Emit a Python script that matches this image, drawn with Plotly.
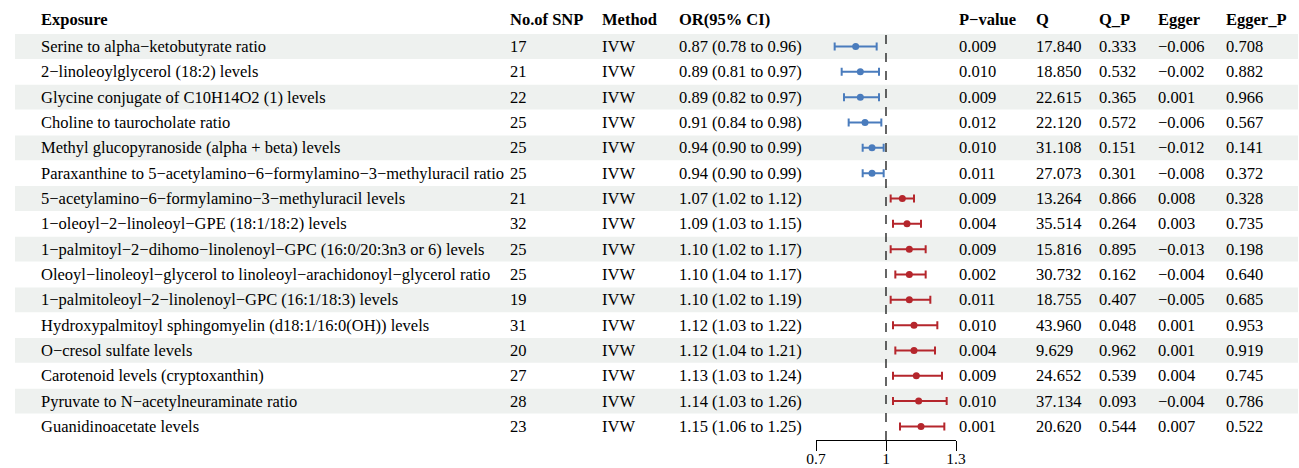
import plotly.graph_objects as go

exposure = [
    "Serine to alpha\u2212ketobutyrate ratio",
    "2\u2212linoleoylglycerol (18:2) levels",
    "Glycine conjugate of C10H14O2 (1) levels",
    "Choline to taurocholate ratio",
    "Methyl glucopyranoside (alpha + beta) levels",
    "Paraxanthine to 5\u2212acetylamino\u22126\u2212formylamino\u22123\u2212methyluracil ratio",
    "5\u2212acetylamino\u22126\u2212formylamino\u22123\u2212methyluracil levels",
    "1\u2212oleoyl\u22122\u2212linoleoyl\u2212GPE (18:1/18:2) levels",
    "1\u2212palmitoyl\u22122\u2212dihomo\u2212linolenoyl\u2212GPC (16:0/20:3n3 or 6) levels",
    "Oleoyl\u2212linoleoyl\u2212glycerol to linoleoyl\u2212arachidonoyl\u2212glycerol ratio",
    "1\u2212palmitoleoyl\u22122\u2212linolenoyl\u2212GPC (16:1/18:3) levels",
    "Hydroxypalmitoyl sphingomyelin (d18:1/16:0(OH)) levels",
    "O\u2212cresol sulfate levels",
    "Carotenoid levels (cryptoxanthin)",
    "Pyruvate to N\u2212acetylneuraminate ratio",
    "Guanidinoacetate levels",
]
n_snp = [17, 21, 22, 25, 25, 25, 21, 32, 25, 25, 19, 31, 20, 27, 28, 23]
method = ["IVW"] * 16
or_val = [0.87, 0.89, 0.89, 0.91, 0.94, 0.94, 1.07, 1.09, 1.10, 1.10, 1.10, 1.12, 1.12, 1.13, 1.14, 1.15]
ci_lo = [0.78, 0.81, 0.82, 0.84, 0.90, 0.90, 1.02, 1.03, 1.02, 1.04, 1.02, 1.03, 1.04, 1.03, 1.03, 1.06]
ci_hi = [0.96, 0.97, 0.97, 0.98, 0.99, 0.99, 1.12, 1.15, 1.17, 1.17, 1.19, 1.22, 1.21, 1.24, 1.26, 1.25]
p_value = ["0.009", "0.010", "0.009", "0.012", "0.010", "0.011", "0.009", "0.004", "0.009", "0.002",
           "0.011", "0.010", "0.004", "0.009", "0.010", "0.001"]
q_stat = ["17.840", "18.850", "22.615", "22.120", "31.108", "27.073", "13.264", "35.514", "15.816", "30.732",
          "18.755", "43.960", "9.629", "24.652", "37.134", "20.620"]
q_p = ["0.333", "0.532", "0.365", "0.572", "0.151", "0.301", "0.866", "0.264", "0.895", "0.162",
       "0.407", "0.048", "0.962", "0.539", "0.093", "0.544"]
egger = ["\u22120.006", "\u22120.002", "0.001", "\u22120.006", "\u22120.012", "\u22120.008", "0.008", "0.003",
         "\u22120.013", "\u22120.004", "\u22120.005", "0.001", "0.001", "0.004", "\u22120.004", "0.007"]
egger_p = ["0.708", "0.882", "0.966", "0.567", "0.141", "0.372", "0.328", "0.735", "0.198", "0.640",
           "0.685", "0.953", "0.919", "0.745", "0.786", "0.522"]
headers = ["Exposure", "No.of SNP", "Method", "OR(95% CI)", "P\u2212value", "Q", "Q_P", "Egger", "Egger_P"]
tick_vals = [0.7, 1, 1.3]
tick_text = ["0.7", "1", "1.3"]

W, H = 1299, 468
FONT = "Liberation Serif"
FS = 16.5
BLUE = "#4a7cbd"
RED = "#b5262c"
SHADE = "#eef1ef"

rows = list(range(1, len(exposure) + 1))
or_text = [f"{o:.2f} ({l:.2f} to {h:.2f})" for o, l, h in zip(or_val, ci_lo, ci_hi)]

# pixel -> row mapping (row centers at 46.5 + (r-1)*25.33)
step = 25.33
y0px = 46.5 - step
y_top = -y0px / step
y_bot = (H - y0px) / step

def prow(px):
    return (px - y0px) / step

col_x = [39, 508, 600, 677, 957, 1034, 1097, 1156, 1224]

fig = go.Figure()

shapes = []
for r in rows:
    if r % 2 == 1:
        shapes.append(dict(type="rect", xref="paper", yref="y", x0=15 / W, x1=1298 / W,
                           y0=r - 0.49, y1=r + 0.49, fillcolor=SHADE, line=dict(width=0), layer="below"))
shapes.append(dict(type="line", xref="x", yref="y", x0=1, x1=1, y0=prow(35), y1=prow(440),
                   line=dict(color="black", width=1.2, dash="dash")))

for grp, col in ((True, BLUE), (False, RED)):
    idx = [i for i, o in enumerate(or_val) if (o < 1) == grp]
    fig.add_trace(go.Scatter(
        x=[or_val[i] for i in idx], y=[rows[i] for i in idx], mode="markers",
        marker=dict(color=col, size=7),
        error_x=dict(type="data", symmetric=False,
                     array=[ci_hi[i] - or_val[i] for i in idx],
                     arrayminus=[or_val[i] - ci_lo[i] for i in idx],
                     color=col, thickness=2, width=4),
        showlegend=False, hoverinfo="skip", cliponaxis=False))

# invisible trace to carry the labelled copy of the x axis
fig.add_trace(go.Scatter(x=[or_val[0]], y=[rows[0]], xaxis="x2", mode="markers",
                         marker=dict(opacity=0), showlegend=False, hoverinfo="skip"))

ann = []
for c, h in enumerate(headers):
    ann.append(dict(x=col_x[c] / W, y=prow(19), xref="paper", yref="y", text=f"<b>{h}</b>",
                    showarrow=False, xanchor="left", yanchor="middle", font=dict(family=FONT, size=FS, color="black")))
cols = [exposure, [str(v) for v in n_snp], method, or_text, p_value, q_stat, q_p, egger, egger_p]
for c, vals in enumerate(cols):
    for r, v in zip(rows, vals):
        ann.append(dict(x=col_x[c] / W, y=r, xref="paper", yref="y", text=v, showarrow=False,
                        xanchor="left", yanchor="middle", font=dict(family=FONT, size=FS, color="black")))

axis_pos = 1 - 440 / H
fig.update_layout(
    width=W, height=H, margin=dict(l=0, r=0, t=0, b=0, pad=0), autosize=False,
    paper_bgcolor="white", plot_bgcolor="rgba(0,0,0,0)",
    shapes=shapes, annotations=ann,
    xaxis=dict(domain=[816 / W, 956 / W], range=[0.7, 1.3], anchor="free", position=axis_pos,
               automargin=False,
               showline=True, linecolor="black", linewidth=1.3, ticks="outside", ticklen=10,
               tickwidth=1.3, tickcolor="black", tickvals=tick_vals, showticklabels=False,
               showgrid=False, zeroline=False),
    xaxis2=dict(domain=[816 / W, 956 / W], range=[0.7, 1.3], anchor="free", position=axis_pos,
                overlaying="x", side="bottom", automargin=False,
                showline=False, ticks="outside", ticklen=4, tickcolor="rgba(0,0,0,0)",
                tickvals=tick_vals, ticktext=tick_text,
                showgrid=False, zeroline=False, tickfont=dict(family=FONT, size=15.5, color="black")),
    yaxis=dict(domain=[0, 1], range=[y_bot, y_top], visible=False, showgrid=False, zeroline=False,
               automargin=False),
)

post = ("document.documentElement.style.margin='0';document.documentElement.style.overflow='hidden';"
        "document.body.style.margin='0';document.body.style.padding='0';document.body.style.overflow='hidden';")
fig.write_html("out.html", post_script=post, config={"displayModeBar": False})
